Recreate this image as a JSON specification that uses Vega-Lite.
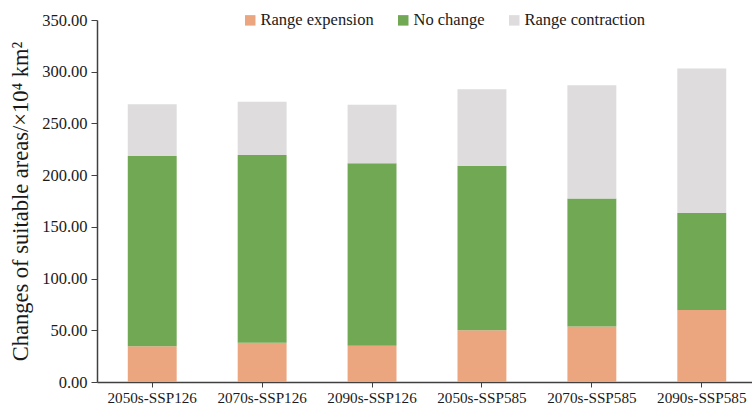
{
  "$schema": "https://vega.github.io/schema/vega-lite/v6.json",
  "width": 660,
  "height": 362,
  "autosize": {"type": "none"},
  "padding": {"left": 97, "top": 20, "right": 0, "bottom": 26},
  "background": "white",
  "config": {
    "view": {"stroke": null},
    "font": "Liberation Serif",
    "axis": {"labelFont": "Liberation Serif", "titleFont": "Liberation Serif", "labelColor": "#1a1a1a", "titleColor": "#1a1a1a", "domainColor": "#404040", "tickColor": "#404040", "domainWidth": 1.5, "grid": false},
    "legend": {"labelFont": "Liberation Serif"}
  },
  "data": {
    "values": [
      {"period": "2050s-SSP126", "type": "Range expension", "o": 1, "value": 34.5},
      {"period": "2050s-SSP126", "type": "No change", "o": 2, "value": 184},
      {"period": "2050s-SSP126", "type": "Range contraction", "o": 3, "value": 50},
      {"period": "2070s-SSP126", "type": "Range expension", "o": 1, "value": 38},
      {"period": "2070s-SSP126", "type": "No change", "o": 2, "value": 181.5},
      {"period": "2070s-SSP126", "type": "Range contraction", "o": 3, "value": 51.5},
      {"period": "2090s-SSP126", "type": "Range expension", "o": 1, "value": 35},
      {"period": "2090s-SSP126", "type": "No change", "o": 2, "value": 176.5},
      {"period": "2090s-SSP126", "type": "Range contraction", "o": 3, "value": 56.5},
      {"period": "2050s-SSP585", "type": "Range expension", "o": 1, "value": 50},
      {"period": "2050s-SSP585", "type": "No change", "o": 2, "value": 159},
      {"period": "2050s-SSP585", "type": "Range contraction", "o": 3, "value": 74},
      {"period": "2070s-SSP585", "type": "Range expension", "o": 1, "value": 53.7},
      {"period": "2070s-SSP585", "type": "No change", "o": 2, "value": 123.8},
      {"period": "2070s-SSP585", "type": "Range contraction", "o": 3, "value": 109.5},
      {"period": "2090s-SSP585", "type": "Range expension", "o": 1, "value": 69.7},
      {"period": "2090s-SSP585", "type": "No change", "o": 2, "value": 93.8},
      {"period": "2090s-SSP585", "type": "Range contraction", "o": 3, "value": 139.5}
    ]
  },
  "mark": {"type": "bar"},
  "encoding": {
    "x": {
      "field": "period", "type": "nominal", "sort": null,
      "scale": {"paddingInner": 0.555, "paddingOuter": 0.28},
      "axis": {"title": null, "labelAngle": 0, "labelFontSize": 15.2, "tickSize": 5, "labelPadding": 3}
    },
    "y": {
      "field": "value", "type": "quantitative", "aggregate": "sum", "stack": "zero",
      "scale": {"domain": [0, 350], "nice": false},
      "axis": {"title": "Changes of suitable areas/×10⁴ km²", "values": [0, 50, 100, 150, 200, 250, 300, 350], "format": ".2f", "labelFontSize": 16.5, "titleFontSize": 22.5, "titleFontWeight": "normal", "tickSize": 6, "labelPadding": 4, "titlePadding": 9}
    },
    "color": {
      "field": "type", "type": "nominal",
      "scale": {"domain": ["Range expension", "No change", "Range contraction"], "range": ["#EBA680", "#70A854", "#DEDCDD"]},
      "legend": {"title": null, "orient": "none", "direction": "horizontal", "legendX": 145, "legendY": -8, "symbolType": "square", "symbolSize": 110, "symbolStrokeWidth": 0, "labelFontSize": 16.5, "labelColor": "#1a1a1a", "columnPadding": 21, "labelOffset": 2}
    },
    "order": {"field": "o", "type": "quantitative"}
  }
}
